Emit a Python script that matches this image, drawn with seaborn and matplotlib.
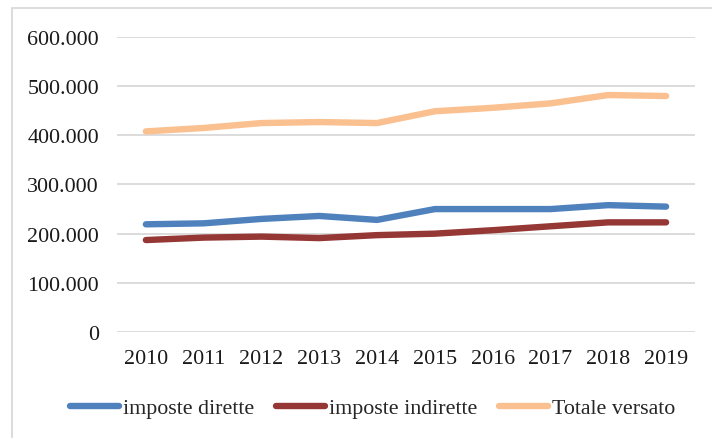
import pandas as pd
import seaborn as sns
import matplotlib.pyplot as plt
from matplotlib.ticker import FuncFormatter
from matplotlib.patches import Rectangle

# Data (migliaia di euro)
years = [2010, 2011, 2012, 2013, 2014, 2015, 2016, 2017, 2018, 2019]
imposte_dirette = [219000, 221000, 230000, 236000, 228000, 250000, 250000, 250000, 258000, 255000]
imposte_indirette = [187000, 192000, 194000, 191000, 197000, 200000, 207000, 215000, 223000, 223000]
totale_versato = [408000, 415000, 425000, 427000, 425000, 449000, 456000, 465000, 482000, 480000]

series_names = ["imposte dirette", "imposte indirette", "Totale versato"]
colors = ["#4F81BD", "#953735", "#FAC090"]

df = pd.DataFrame({
    "Anno": years * 3,
    "pos": list(range(len(years))) * 3,
    "Valore": imposte_dirette + imposte_indirette + totale_versato,
    "Serie": [s for s in series_names for _ in years],
})

sns.set_style("white")
plt.rcParams["font.family"] = ["Liberation Serif", "DejaVu Serif"]

fig = plt.figure(figsize=(7.12, 4.39), dpi=100)
ax = fig.add_axes([0.1643, 0.2415, 0.8118, 0.6719])

sns.lineplot(data=df, x="pos", y="Valore", hue="Serie", hue_order=series_names,
             palette=colors, linewidth=4.6, ax=ax, legend=False,
             solid_capstyle="round")

ax.set_xlim(-0.5, len(years) - 0.5)
ax.set_ylim(0, 600000)
ax.set_xticks(range(len(years)))
ax.set_xticklabels([str(y) for y in years])
ax.set_yticks(range(0, 600001, 100000))
ax.yaxis.set_major_formatter(FuncFormatter(lambda v, p: f"{int(v):,}".replace(",", ".")))
ax.yaxis.grid(True, color="#D9D9D9", linewidth=1.3)
ax.set_axisbelow(True)
ax.set_xlabel("")
ax.set_ylabel("")
for s in ax.spines.values():
    s.set_visible(False)
ax.tick_params(axis="both", length=0, labelsize=15.8, colors="#1a1a1a")
ax.tick_params(axis="y", pad=13)
ax.tick_params(axis="x", pad=12)

handles = [plt.Line2D([], [], color=c, linewidth=4.6, solid_capstyle="round") for c in colors]
fig.legend(handles, series_names, loc="center", bbox_to_anchor=(0.523, 0.068), ncol=3,
           frameon=False, fontsize=15.8, handlelength=2.25, handletextpad=0.15,
           columnspacing=1.0)

# light frame like the original chart area
fig.patches.append(Rectangle((12 / 712, -0.1), 1.2, 1 - 8.5 / 439 + 0.1, transform=fig.transFigure,
                             fill=False, edgecolor="#D9D9D9", linewidth=1.3))

fig.savefig("out.png", dpi=100)
